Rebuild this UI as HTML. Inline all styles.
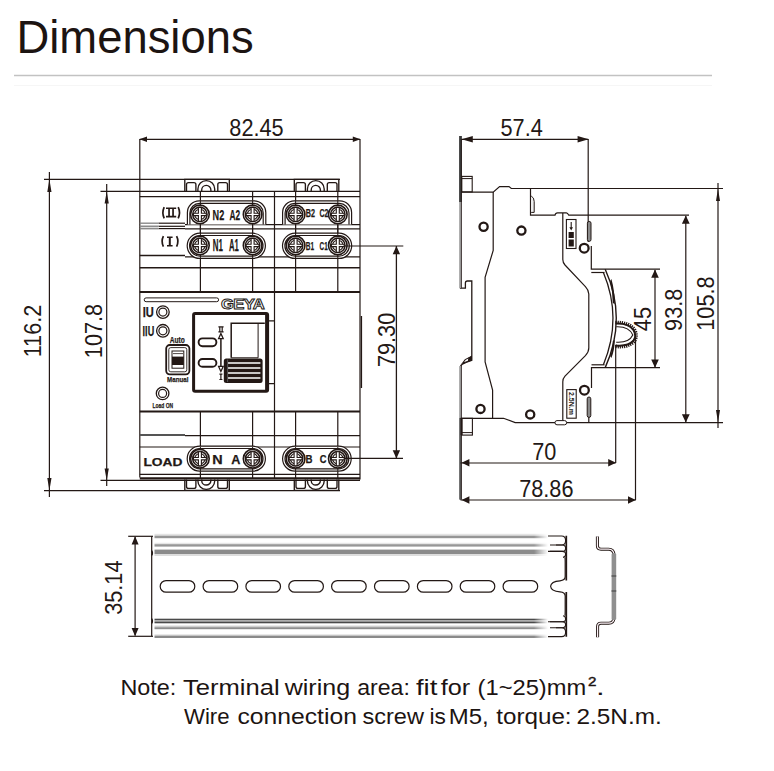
<!DOCTYPE html>
<html><head><meta charset="utf-8"><title>Dimensions</title>
<style>
html,body{margin:0;padding:0;background:#fff;}
body{width:774px;height:771px;overflow:hidden;position:relative;font-family:"Liberation Sans",sans-serif;}
svg{position:absolute;left:0;top:0;}
</style></head><body>
<svg width="774" height="771" viewBox="0 0 774 771" font-family="Liberation Sans, sans-serif">
<defs>
  <symbol id="screw" viewBox="-10 -10 20 20" overflow="visible">
    <circle r="9.3" fill="#fff" stroke="#231815" stroke-width="1.6"/>
    <circle r="7.2" fill="none" stroke="#231815" stroke-width="1.5"/>
    <circle r="5.2" fill="none" stroke="#231815" stroke-width="1.1"/>
    <path d="M-1.5,-7 V-1.2 H-6.4 V1.2 H-1.5 V7 H1.5 V1.2 H6.4 V-1.2 H1.5 V-7 Z" fill="#fff" stroke="#231815" stroke-width="1.1"/>
  </symbol>
  <linearGradient id="fadeR" x1="0" x2="1" y1="0" y2="0"><stop offset="0" stop-color="#fff" stop-opacity="0"/><stop offset="1" stop-color="#fff" stop-opacity="1"/></linearGradient>
  <marker id="at" viewBox="0 0 10 10" refX="10" refY="5" markerWidth="10" markerHeight="10" markerUnits="userSpaceOnUse" orient="auto-start-reverse">
    <path d="M0,1.5 L10,5 L0,8.5 Z" fill="#231815"/>
  </marker>
</defs>

<!-- Title -->
<text x="16.5" y="52.7" font-size="45.4" fill="#1c1412">Dimensions</text>
<line x1="14" y1="75.5" x2="712" y2="75.5" stroke="#c2c2c2" stroke-width="1.6"/>
<line x1="14" y1="85.5" x2="712" y2="85.5" stroke="#f6f6f6" stroke-width="1"/>


<g id="front" stroke="#231815" fill="none" stroke-width="1.2">
  <!-- 82.45 dimension -->
  <line x1="139.8" y1="139.3" x2="360" y2="139.3"/>
  <path d="M139.4,139.3 L147,136.6 L147,142 Z M360.4,139.3 L352.8,136.6 L352.8,142 Z" fill="#231815" stroke="none"/>
  <!-- outer vertical edges / extension -->
  <line x1="139.8" y1="139" x2="139.8" y2="477.5"/>
  <line x1="360" y1="139" x2="360" y2="479.5"/>
  <!-- 116.2 -->
  <line x1="44" y1="179.3" x2="340" y2="179.3"/>
  <line x1="44" y1="490.6" x2="340" y2="490.6"/>
  <line x1="49.4" y1="172" x2="49.4" y2="497"/>
  <path d="M49.4,179.3 L47.3,192 L51.5,192 Z M49.4,490.6 L47.3,478 L51.5,478 Z" fill="#231815" stroke="none"/>
  <!-- 107.8 -->
  <line x1="100.5" y1="191.4" x2="360" y2="191.4"/>
  <line x1="100.5" y1="480.4" x2="360" y2="480.4"/>
  <line x1="106.7" y1="184" x2="106.7" y2="486"/>
  <path d="M106.7,191.4 L104.6,203.5 L108.8,203.5 Z M106.7,480.4 L104.6,468.5 L108.8,468.5 Z" fill="#231815" stroke="none"/>

  <!-- top bumps -->
  <g id="bumpT" stroke-width="1.35">
    <path d="M184.8,191.4 V179.3 H229.3 V191.4"/>
    <path d="M186.5,191.4 V184.6 Q186.5,182.6 188.5,182.6 H193.9 Q195.9,182.6 195.9,184.6 V191.4"/>
    <path d="M217.8,191.4 V184.6 Q217.8,182.6 219.8,182.6 H225.5 Q227.5,182.6 227.5,184.6 V191.4"/>
    <path d="M197.9,191.4 V189 A8.4,8.4 0 0 1 214.7,189 V191.4"/>
    <path d="M201.7,191.4 V190 A4.6,4.6 0 0 1 210.9,190 V191.4"/>
  </g>
  <use href="#bumpT" transform="translate(109.5,0)"/>

  <!-- horizontal lines of top terminal block -->
  <line x1="139.8" y1="196.6" x2="360" y2="196.6"/>
  <line x1="158.5" y1="223.2" x2="185" y2="223.2"/>
  <line x1="139.8" y1="223.2" x2="158.5" y2="223.2" stroke="#8a8a8a" stroke-width="1.4"/>
  <line x1="158.5" y1="226.3" x2="185" y2="226.3"/>
  <line x1="158.5" y1="228.6" x2="185" y2="228.6"/>
  <line x1="139.8" y1="226.3" x2="158.5" y2="226.3" stroke="#8a8a8a" stroke-width="1.6"/>
  <line x1="139.8" y1="228.6" x2="158.5" y2="228.6" stroke="#8a8a8a" stroke-width="1.6"/>
  <line x1="185" y1="224.6" x2="360" y2="224.6"/>
  <line x1="185" y1="228.8" x2="360" y2="228.8"/>
  <line x1="139.8" y1="255.6" x2="185" y2="255.6" stroke-width="1.5"/>
  <line x1="185" y1="256.8" x2="360" y2="256.8"/>
  <line x1="139.8" y1="267.7" x2="360" y2="267.7" stroke-width="1.5"/>
  <line x1="139.8" y1="291.9" x2="360" y2="291.9" stroke-width="2"/>
  <!-- vertical lines top terminal block -->
  <path d="M200.4,191.4 V292 M252.6,191.4 V292 M274.5,191.4 V292 M295.6,191.4 V292 M337.8,191.4 V292"/>

  <!-- row II shells (open bottom) -->
  <path d="M187.4,224.6 V212.6 A11.8,11.8 0 0 1 199.2,200.8 H254 A11.8,11.8 0 0 1 265.8,212.6 V224.6" fill="#fff"/>
  <path d="M189.9,224.6 V213 A9.6,9.6 0 0 1 199.5,203.4 H253.6 A9.6,9.6 0 0 1 263.2,213 V224.6"/>
  <path d="M282.6,224.6 V212.6 A11.8,11.8 0 0 1 294.4,200.8 H339.8 A11.8,11.8 0 0 1 351.6,212.6 V224.6" fill="#fff"/>
  <path d="M285.1,224.6 V213 A9.6,9.6 0 0 1 294.7,203.4 H339.4 A9.6,9.6 0 0 1 349,213 V224.6"/>
  <!-- row I shells -->
  <rect x="187.2" y="233.2" width="78.2" height="25.2" rx="12.6" fill="#fff"/>
  <rect x="189.6" y="235.5" width="73.4" height="20.6" rx="10.3"/>
  <rect x="282.5" y="233.2" width="69.2" height="25.2" rx="12.6" fill="#fff"/>
  <rect x="284.9" y="235.5" width="64.4" height="20.6" rx="10.3"/>
  <!-- vertical lines through shells -->
  <path d="M200.4,201 V258.5 M252.6,201 V258.5 M295.6,201 V258.5 M337.8,201 V258.5" stroke-width="1"/>
  <!-- screws top -->
  <use href="#screw" x="189.9" y="204.4" width="20" height="20"/>
  <use href="#screw" x="242.6" y="204.4" width="20" height="20"/>
  <use href="#screw" x="285.6" y="204.4" width="20" height="20"/>
  <use href="#screw" x="327.8" y="204.4" width="20" height="20"/>
  <use href="#screw" x="189.9" y="235.4" width="20" height="20"/>
  <use href="#screw" x="242.6" y="235.4" width="20" height="20"/>
  <use href="#screw" x="285.6" y="235.4" width="20" height="20"/>
  <use href="#screw" x="327.8" y="235.4" width="20" height="20"/>
  
  <g fill="none" stroke="#231815" stroke-width="1.7">
    <path d="M164.2,207.2 Q161.6,212.8 164.2,218.4 M178.2,207.2 Q180.8,212.8 178.2,218.4"/>
    <path d="M163.4,236.2 Q160.8,241.4 163.4,246.6 M176.6,236.2 Q179.2,241.4 176.6,246.6"/>
  </g>
  <g fill="#231815" stroke="none">
    <path d="M166,207.4 H176.2 V209.1 H173.9 V215.8 H176.2 V217.6 H166 V215.8 H168.2 V209.1 H166 Z M169.9,209.1 V215.8 H172.2 V209.1 Z"/>
    <path d="M167,236.4 H172.6 V238 H170.8 V245 H172.6 V246.6 H167 V245 H168.8 V238 H167 Z"/>
  </g>

  <!-- front panel -->
  <line x1="274.5" y1="292" x2="274.5" y2="478"/>
  <rect x="144.2" y="297.9" width="74.4" height="3.8" rx="1.9" stroke-width="1"/>
  <text x="221" y="309.2" font-size="16" font-weight="bold" fill="#fff" stroke="#231815" stroke-width="1.0" letter-spacing="-0.6" transform="translate(221,309.2) scale(1.04,0.93) translate(-221,-309.2)">GEYA</text>
  <!-- window -->
  <rect x="193.6" y="313.6" width="74" height="77.6" rx="1.5" stroke-width="3"/>
  <line x1="266.6" y1="314" x2="266.6" y2="390" stroke-width="3"/>
  <path d="M268.1,320.8 H274.5 M268.1,383.7 H274.5"/>
  <line x1="361.4" y1="316" x2="361.4" y2="388" stroke-width="1.4"/>
  <!-- handle -->
  <path d="M231.2,357.8 V323.3 H264.8" stroke-width="1.5"/>
  <line x1="258.1" y1="323.3" x2="258.1" y2="357.8" stroke-width="1"/>
  <line x1="231.2" y1="357.8" x2="258.1" y2="357.8" stroke-width="1"/>
  <rect x="223.8" y="358.6" width="38.8" height="24.4" rx="2.5" fill="#231815" stroke="none"/>
  <path d="M228,363 H260.4 M228,368 H260.4 M228,373 H260.4 M228,378 H260.4" stroke="#fff" stroke-width="1.7"/>
  <path d="M227.6,359.6 V382" stroke="#555" stroke-width="1"/>
  <!-- ovals -->
  <rect x="198.6" y="338.4" width="17.8" height="7.8" rx="3.9" stroke-width="1.9"/>
  <rect x="198.6" y="359" width="17.8" height="7.8" rx="3.9" stroke-width="1.9"/>
  <!-- arrow II/I -->
  <line x1="220.9" y1="336" x2="220.9" y2="369" stroke-width="1.5"/>
  <path d="M220.9,333.6 L218.6,338.6 L223.2,338.6 Z M220.9,371.4 L218.6,366.4 L223.2,366.4 Z" fill="#fff" stroke-width="1.3"/>
  <path d="M218.4,326.2 H223.6 V327.4 H222.8 V331.3 H223.6 V332.5 H218.4 V331.3 H219.2 V327.4 H218.4 Z M220.4,327.4 V331.3 H221.6 V327.4 Z" fill="#231815" stroke="none"/>
  <path d="M219.4,373.6 H222.4 V374.7 H221.5 V378.9 H222.4 V380 H219.4 V378.9 H220.3 V374.7 H219.4 Z" fill="#231815" stroke="none"/>
  <!-- left indicators -->
  <circle cx="162.9" cy="312.1" r="6.3" stroke-width="1.3"/>
  <circle cx="162.9" cy="312.1" r="4.0" stroke-width="1.2"/>
  <circle cx="162.9" cy="330.8" r="6.3" stroke-width="1.3"/>
  <circle cx="162.9" cy="330.8" r="4.0" stroke-width="1.2"/>
  <circle cx="162.6" cy="393.4" r="6.3" stroke-width="1.3"/>
  <circle cx="162.6" cy="393.4" r="4.0" stroke-width="1.2"/>
  <!-- switch -->
  <rect x="166.2" y="345" width="23.2" height="29.4" rx="3.6" stroke-width="1.8"/>
  <rect x="168.8" y="347.6" width="18" height="24.2" rx="2" stroke-width="0.9"/>
  <rect x="172" y="351" width="11.8" height="17.2" stroke-width="1"/>
  <rect x="172" y="356.6" width="11.8" height="8.4" fill="#231815" stroke="none"/>
  <line x1="173" y1="353.6" x2="183" y2="353.6" stroke-width="0.8"/>

  <!-- bottom terminal block -->
  <line x1="139.8" y1="411.5" x2="360" y2="411.5" stroke-width="2"/>
  <line x1="185" y1="435.6" x2="360" y2="435.6" stroke-width="1.4"/>
  <line x1="139.8" y1="435" x2="185" y2="435" stroke="#555" stroke-width="2"/>
  <line x1="139.8" y1="447" x2="360" y2="447"/>
  <line x1="139.8" y1="474.4" x2="360" y2="474.4"/>
  <line x1="139.8" y1="478.4" x2="360" y2="478.4" stroke-width="2.4"/>
  <path d="M200.4,411.5 V478 M252.6,411.5 V478 M295.6,411.5 V478 M337.8,411.5 V478"/>
  <rect x="187.2" y="446.2" width="78.2" height="25" rx="12.5" fill="#fff"/>
  <rect x="189.6" y="448.5" width="73.4" height="20.4" rx="10.2"/>
  <rect x="282.6" y="446.2" width="68.6" height="25" rx="12.5" fill="#fff"/>
  <rect x="285" y="448.5" width="63.8" height="20.4" rx="10.2"/>
  <path d="M200.4,447 V471 M252.6,447 V471 M295.6,447 V471 M337.8,447 V471" stroke-width="1"/>
  <use href="#screw" x="189.9" y="448.7" width="20" height="20"/>
  <use href="#screw" x="242.6" y="448.7" width="20" height="20"/>
  <use href="#screw" x="285.6" y="448.7" width="20" height="20"/>
  <use href="#screw" x="327.8" y="448.7" width="20" height="20"/>
  
  <!-- bottom bumps -->
  <g id="bumpB" stroke-width="1.35">
    <path d="M184.8,479.5 V490.4 H229.3 V479.5"/>
    <path d="M186.5,479.5 V486.4 Q186.5,488.4 188.5,488.4 H193.9 Q195.9,488.4 195.9,486.4 V479.5"/>
    <path d="M217.8,479.5 V486.4 Q217.8,488.4 219.8,488.4 H225.5 Q227.5,488.4 227.5,486.4 V479.5"/>
    <path d="M197.9,479.5 V481 A8.4,8.4 0 0 0 214.7,481 V479.5"/>
    <path d="M201.7,479.5 V480.4 A4.6,4.6 0 0 0 210.9,480.4 V479.5"/>
  </g>
  <use href="#bumpB" transform="translate(109.5,0)"/>

  <!-- 79.30 dimension -->
  <line x1="344" y1="246" x2="403.3" y2="246"/>
  <line x1="344" y1="458.4" x2="403" y2="458.4"/>
  <line x1="396.4" y1="246" x2="396.4" y2="458" stroke-width="1.3"/>
  <path d="M396.4,246 L392.7,254.2 L400.1,254.2 Z M396.4,458.4 L392.7,450.2 L400.1,450.2 Z" fill="#231815" stroke="none"/>
</g>



<g id="side" stroke="#231815" fill="none" stroke-width="1.2">
  <!-- 57.4 dimension -->
  <line x1="460.3" y1="139.3" x2="588.2" y2="139.3"/>
  <path d="M461.6,139.3 L472.8,136 L472.8,142.6 Z M588.6,139.3 L577.6,136 L577.6,142.6 Z" fill="#231815" stroke="none"/>
  <!-- DIN rail profile (left) -->
  <path d="M460.5,139 V288.2 H465.4 V283 Q465.4,281 467.4,281 H471.8 V360.2 L466,362.4 L462.4,364.2 Q460.5,365.2 460.5,367 V499.6" stroke-width="1.3"/>
  <line x1="460.4" y1="202" x2="460.4" y2="288" stroke="#a4a4a4" stroke-width="2.4"/>
  <line x1="460.4" y1="366" x2="460.4" y2="418" stroke="#a4a4a4" stroke-width="2.4"/>
  <line x1="460.4" y1="418" x2="460.4" y2="499.6" stroke="#5a5a5a" stroke-width="2.4"/>
  <line x1="460.5" y1="136" x2="460.5" y2="202" stroke="#3a3a3a" stroke-width="2.8"/>
  <path d="M461.4,139 V288.2 M461.4,365 V499.6" stroke-width="0.8"/>
  <path d="M471.4,356.4 L465.2,359.6 L462.6,363.2 L471.4,360 Z" fill="#fff" stroke="#231815" stroke-width="1.1"/>
  <path d="M469,358 L471.4,356.8 L471.4,359.6 L468.6,360.4 Z" fill="#231815"/>
  <!-- DIN clips top/bottom -->
  <rect x="461.8" y="176.4" width="10.4" height="15.5" stroke-width="1.1"/>
  <line x1="461.8" y1="178.6" x2="472.2" y2="178.6" stroke-width="1"/>
  <rect x="461.6" y="418.3" width="10.8" height="16.8" stroke-width="1.1"/>
  <line x1="461.6" y1="432.6" x2="472.4" y2="432.6" stroke-width="1"/>
  <line x1="461.6" y1="418.3" x2="461.6" y2="435" stroke-width="2"/>

  <!-- body top edge -->
  <path d="M461.8,192.1 H493.2 L499.6,186.6 H509 L511.3,188.5 H723"/>
  <!-- terminal block top rect -->
  <path d="M530.5,188.5 V215.2 H555 Q555.5,212.8 557.5,212.8 H566.4 Q567.6,212.8 568.8,215.2 H689"/>
  <path d="M531.2,196 Q534.2,197.5 534.2,201.5 V212.4 H531.2" fill="#eee" stroke-width="1"/>
  <!-- body left waist -->
  <path d="M493.2,192.1 V250.4 L485.1,277.4 V362 L492.6,390.2 V418.3"/>
  <!-- body bottom -->
  <path d="M460.5,418.3 H503.5 L515.2,422.6 H723"/>
  <!-- body right profile -->
  <path d="M562.8,213 V259.5 Q562.8,262.5 565,265 L585.4,286.6 Q588.8,290.2 588.8,294 V348 Q588.8,352 585.4,355.6 L565,376.2 Q562.8,378.7 562.8,381.7 V422.6"/>
  <!-- front face lines -->
  <line x1="588.2" y1="139" x2="588.2" y2="242"/>
  <path d="M591.3,246 V269.2 H660"/>
  <path d="M591.3,272.5 H604.5"/>
  <path d="M591.5,388 V367.6 H660"/>
  <path d="M588.8,417 V422.6"/>
  <path d="M591.5,364.8 H604.5"/>
  <!-- knob slivers -->
  <rect x="587.4" y="221.4" width="3.6" height="20" rx="1.8" stroke-width="1" fill="#8a8a8a"/>
  <rect x="587.2" y="397" width="3.6" height="20.4" rx="1.8" stroke-width="1" fill="#8a8a8a"/>
  <!-- circles -->
  <g stroke-width="2.3">
    <circle cx="483.6" cy="226.8" r="4.1"/>
    <circle cx="521.4" cy="230.6" r="4.1"/>
    <circle cx="584.2" cy="248.2" r="4.4"/>
    <circle cx="480.5" cy="408.9" r="4.1"/>
    <circle cx="530.2" cy="414.4" r="4.1"/>
    <circle cx="584.4" cy="390.2" r="4.4"/>
  </g>
  <!-- label boxes -->
  <rect x="566.4" y="219.5" width="9.6" height="29" stroke-width="1.1"/>
  <rect x="566.8" y="389.6" width="9.4" height="28.6" stroke-width="1.1"/>
  <path d="M571.2,222 V229" stroke-width="1.1"/>
  <path d="M569.4,227.2 L571.2,230.4 L573,227.2 Z" fill="#231815" stroke="none"/>
  <rect x="568.6" y="232" width="5.2" height="6" fill="#231815" stroke="none"/>
  <rect x="568.6" y="239.5" width="5.2" height="7" fill="#231815" stroke="none"/>
  <text transform="translate(569,392) rotate(90)" font-size="7" font-weight="bold" fill="#231815" stroke="none">2.5N.m</text>
  <!-- bottom small clip -->
  <rect x="555" y="420.6" width="11.6" height="4.2" rx="2" stroke-width="1" fill="#fff"/>

  <!-- handle arcs -->
  <path d="M605.2,269.2 Q627.4,318.4 605.2,367.6" stroke-width="1.4"/>
  <path d="M603.4,272.6 Q622.6,318.4 603.4,364.8" stroke-width="1.3"/>
  <path d="M611.4,279 Q614.6,290 614.8,304 L612.8,303 Q612.4,291 610.2,281 Z" fill="#231815" stroke="none"/>
  <path d="M611.4,358 Q614.6,350 614.8,340 L612.8,341 Q612.4,350 610.2,356 Z" fill="#231815" stroke="none"/>
  <!-- knob -->
  <path d="M615.4,322.6 Q628.6,321.8 634.2,329.2 Q638.2,335.6 634.2,341.4 Q628.2,348 615.4,346.4" stroke-width="3.4" stroke-dasharray="1.2 0.9"/>
  <path d="M615.6,323.6 Q628,322.8 633.4,329.9 Q637,335.6 633.4,340.8 Q627.6,346.8 615.6,345.4" stroke-width="2"/>
  <path d="M616.2,326.8 Q629,326.2 632.8,335 Q629,343 616.2,342.2" stroke-width="1.1"/>
  <!-- extension lines down -->
  <line x1="615.7" y1="345" x2="615.7" y2="463"/>
  <line x1="635.5" y1="337" x2="635.5" y2="500.2"/>
  <!-- 70 dim -->
  <line x1="460.5" y1="463" x2="615.7" y2="463"/>
  <path d="M461.6,462.8 L469.4,459 L469.4,466.6 Z M616,462.8 L608.2,459 L608.2,466.6 Z" fill="#231815" stroke="none"/>
  <!-- 78.86 dim -->
  <line x1="460.5" y1="500" x2="635.5" y2="500"/>
  <path d="M461.6,500 L469.4,496.2 L469.4,503.8 Z M635.8,500 L628,496.2 L628,503.8 Z" fill="#231815" stroke="none"/>
  <!-- 45 dim -->
  <line x1="655" y1="270" x2="655" y2="367.4"/>
  <path d="M655,269.4 L651.2,277.8 L658.8,277.8 Z M655,367.8 L651.2,359.4 L658.8,359.4 Z" fill="#231815" stroke="none"/>
  <!-- 93.8 dim -->
  <line x1="685.8" y1="216" x2="685.8" y2="422"/>
  <path d="M685.8,215.4 L681.9,223.8 L689.7,223.8 Z M685.8,422.6 L681.9,414.2 L689.7,414.2 Z" fill="#231815" stroke="none"/>
  <!-- 105.8 dim -->
  <line x1="718" y1="183" x2="718" y2="428"/>
  <path d="M718,188.5 L716,201 L720,201 Z M718,422.6 L716,410 L720,410 Z" fill="#231815" stroke="none"/>
</g>

<g id="rail">
  <!-- 35.14 dimension -->
  <g stroke="#231815" fill="none" stroke-width="1.2">
    <line x1="128.2" y1="536.3" x2="153" y2="536.3"/>
    <line x1="128.2" y1="636.3" x2="153" y2="636.3"/>
    <line x1="135.1" y1="537" x2="135.1" y2="635.6"/>
  </g>
  <path d="M135.1,536.3 L131.6,544.6 L138.6,544.6 Z M135.1,636.3 L131.6,628 L138.6,628 Z" fill="#231815"/>
  <!-- strips top -->
  <rect x="154.5" y="533.8" width="410" height="2" fill="#e4e4e4"/>
  <rect x="154.5" y="535.7" width="410" height="2.5" fill="#969696"/>
  <rect x="154.5" y="542.8" width="410" height="1.4" fill="#e6e6e6"/>
  <rect x="154.5" y="544.2" width="410" height="2.4" fill="#979797"/>
  <rect x="154.5" y="549.6" width="410" height="4.4" fill="#8b8b8b"/>
  <rect x="154.5" y="554" width="410" height="2" fill="#dddddd"/>
  <!-- strips bottom -->
  <rect x="154.5" y="618.7" width="410" height="1.7" fill="#4a4a4a"/>
  <rect x="154.5" y="620.4" width="410" height="1.2" fill="#aaaaaa"/>
  <rect x="154.5" y="621.6" width="410" height="1.7" fill="#4a4a4a"/>
  <rect x="154.5" y="625.6" width="410" height="1.6" fill="#cfcfcf"/>
  <rect x="154.5" y="627.2" width="410" height="2" fill="#8e8e8e"/>
  <rect x="154.5" y="634.6" width="410" height="1.2" fill="#c8c8c8"/>
  <rect x="154.5" y="635.8" width="410" height="2.2" fill="#8a8a8a"/>
  <!-- rail left edge -->
  <g stroke="#231815" fill="none" stroke-width="1.2">
    <line x1="151.7" y1="536.3" x2="151.7" y2="636.3"/>
    <path d="M151.7,550.5 Q153.4,553 151.7,555.5 M151.7,618.5 Q153.4,621 151.7,623.5" fill="#231815"/>
  </g>
  <!-- slots -->
  <g stroke="#231815" fill="none" stroke-width="1.2"><rect x="160.2" y="580.6" width="34.6" height="11.6" rx="5.8"/><rect x="203.1" y="580.6" width="34.6" height="11.6" rx="5.8"/><rect x="245.9" y="580.6" width="34.6" height="11.6" rx="5.8"/><rect x="288.8" y="580.6" width="34.6" height="11.6" rx="5.8"/><rect x="331.6" y="580.6" width="34.6" height="11.6" rx="5.8"/><rect x="374.5" y="580.6" width="34.6" height="11.6" rx="5.8"/><rect x="417.4" y="580.6" width="34.6" height="11.6" rx="5.8"/><rect x="460.2" y="580.6" width="34.6" height="11.6" rx="5.8"/><rect x="503.1" y="580.6" width="34.6" height="11.6" rx="5.8"/></g>
  <!-- right end -->
  <rect x="534" y="532" width="14" height="26" fill="url(#fadeR)"/>
  <rect x="534" y="615" width="14" height="24" fill="url(#fadeR)"/>
  <rect x="547.8" y="532" width="18" height="26" fill="#fff"/>
  <rect x="547.8" y="615" width="18" height="24" fill="#fff"/>
  <g stroke="#231815" fill="none" stroke-width="1.1">
    <path d="M548,536 H561.6 Q565.6,536 565.6,540.5 Q565.6,545 561.6,545 H556"/>
    <path d="M550,545 H562.2 Q565.6,545 565.6,548.2 Q565.6,551.4 562.2,551.4 H548"/>
    <path d="M550,551.4 H562.2 Q565.6,551.4 565.6,554.2 Q565.6,557 563,557.4"/>
    <path d="M548,636.6 H561.6 Q565.6,636.6 565.6,632.2 Q565.6,627.8 561.6,627.8 H556"/>
    <path d="M550,627.8 H562.2 Q565.6,627.8 565.6,624.8 Q565.6,621.8 562.2,621.8 H548"/>
    <path d="M550,621.8 H562.2 Q565.6,621.8 565.6,619 Q565.6,616.2 563,615.8"/>
    <path d="M566.3,535.8 V580.6 M566.3,592 V636.8" stroke-width="1.7"/>
    <path d="M565,557.4 Q565.2,559 565.2,562 V576.6 Q565.2,580.4 560,580.8 Q551,581.4 550.6,586.3 Q551,591.2 560,591.8 Q565.2,592.2 565.2,596 V611 Q565.2,614 565,615.8" stroke-width="1.2"/>
  </g>
  <!-- DIN profile -->
  <path d="M597.4,536.6 V545.8 Q597.4,549.2 601,549.2 H608.6 Q613.8,549.2 613.8,554.6 V618 Q613.8,623.2 608.6,623.2 H601 Q597.6,623.2 597.6,626.6 V637.2" fill="none" stroke="#231815" stroke-width="3"/>
  <path d="M597.4,536.6 V545.8 Q597.4,549.2 601,549.2 H608.6 Q613.8,549.2 613.8,554.6 V618 Q613.8,623.2 608.6,623.2 H601 Q597.6,623.2 597.6,626.6 V637.2" fill="none" stroke="#fdf2f7" stroke-width="1.2"/>
  <rect x="611.6" y="553" width="4.6" height="67" rx="1.5" fill="#8f8f8f"/>
  <rect x="611.6" y="575" width="4.6" height="2" fill="#666"/>
  <rect x="611.6" y="590" width="4.6" height="2" fill="#666"/>
</g>
<g id="labels" fill="#231815" stroke="#231815" stroke-width="0.25">
  <text x="212.61" y="219.60" font-size="15.29" font-weight="bold" textLength="11.69" lengthAdjust="spacingAndGlyphs">N2</text>
  <text x="229.49" y="219.60" font-size="15.29" font-weight="bold" textLength="10.67" lengthAdjust="spacingAndGlyphs">A2</text>
  <text x="212.68" y="251.30" font-size="15.94" font-weight="bold" textLength="10.14" lengthAdjust="spacingAndGlyphs">N1</text>
  <text x="228.91" y="251.30" font-size="15.94" font-weight="bold" textLength="9.81" lengthAdjust="spacingAndGlyphs">A1</text>
  <text x="305.73" y="217.30" font-size="11.57" font-weight="bold" textLength="9.18" lengthAdjust="spacingAndGlyphs">B2</text>
  <text x="319.52" y="217.19" font-size="11.41" font-weight="bold" textLength="8.99" lengthAdjust="spacingAndGlyphs">C2</text>
  <text x="305.78" y="249.70" font-size="11.30" font-weight="bold" textLength="8.31" lengthAdjust="spacingAndGlyphs">B1</text>
  <text x="319.55" y="249.59" font-size="10.99" font-weight="bold" textLength="8.14" lengthAdjust="spacingAndGlyphs">C1</text>
  <text x="143.40" y="466.19" font-size="10.99" font-weight="bold" textLength="39.09" lengthAdjust="spacingAndGlyphs">LOAD</text>
  <text x="212.26" y="464.20" font-size="12.32" font-weight="bold" textLength="10.40" lengthAdjust="spacingAndGlyphs">N</text>
  <text x="231.38" y="464.20" font-size="12.32" font-weight="bold" textLength="9.16" lengthAdjust="spacingAndGlyphs">A</text>
  <text x="305.47" y="462.90" font-size="11.74" font-weight="bold" textLength="6.99" lengthAdjust="spacingAndGlyphs">B</text>
  <text x="319.73" y="462.79" font-size="11.41" font-weight="bold" textLength="6.73" lengthAdjust="spacingAndGlyphs">C</text>
  <text x="142.68" y="316.86" font-size="13.71" font-weight="bold" textLength="11.09" lengthAdjust="spacingAndGlyphs">IU</text>
  <text x="142.61" y="335.66" font-size="13.86" font-weight="bold" textLength="11.56" lengthAdjust="spacingAndGlyphs">IIU</text>
  <text x="169.73" y="343.22" font-size="8.43" font-weight="bold" textLength="15.04" lengthAdjust="spacingAndGlyphs">Auto</text>
  <text x="167.10" y="382.02" font-size="7.89" font-weight="bold" textLength="21.26" lengthAdjust="spacingAndGlyphs">Manual</text>
  <text x="152.58" y="407.82" font-size="8.03" font-weight="bold" textLength="20.55" lengthAdjust="spacingAndGlyphs">Load ON</text>
</g>
<g id="dimtext" fill="#231815" font-size="23.6" text-anchor="middle">
  <text transform="translate(256.5,135.7) scale(0.92,1)">82.45</text>
  <text transform="translate(521.65,135.8) scale(0.92,1)">57.4</text>
  <text transform="translate(544.3,459.7) scale(0.92,1)">70</text>
  <text transform="translate(546.35,496.6) scale(0.92,1)">78.86</text>
  <text transform="translate(40.9,331) rotate(-90) scale(0.92,1)">116.2</text>
  <text transform="translate(102,331) rotate(-90) scale(0.92,1)">107.8</text>
  <text transform="translate(395.2,339.9) rotate(-90) scale(0.92,1)">79.30</text>
  <text transform="translate(650.8,319.1) rotate(-90) scale(0.92,1)">45</text>
  <text transform="translate(681.8,309.8) rotate(-90) scale(0.92,1)">93.8</text>
  <text transform="translate(714.1,303.6) rotate(-90) scale(0.92,1)">105.8</text>
  <text transform="translate(121.5,587.7) rotate(-90) scale(0.92,1)">35.14</text>
</g>
<!-- note -->
<g fill="#1c1412" font-size="21.2">
  <text x="120.4" y="694.5" textLength="55.9" lengthAdjust="spacingAndGlyphs">Note:</text>
  <text x="182.9" y="694.5" textLength="96.7" lengthAdjust="spacingAndGlyphs">Terminal</text>
  <text x="284.7" y="694.5" textLength="65.4" lengthAdjust="spacingAndGlyphs">wiring</text>
  <text x="357.2" y="694.5" textLength="52.7" lengthAdjust="spacingAndGlyphs">area:</text>
  <text x="415.9" y="694.5" textLength="21.5" lengthAdjust="spacingAndGlyphs">fit</text>
  <text x="440.7" y="694.5" textLength="29.5" lengthAdjust="spacingAndGlyphs">for</text>
  <text x="477.6" y="694.5" textLength="108.6" lengthAdjust="spacingAndGlyphs">(1~25)mm</text>
  <text x="595.9" y="694.5" textLength="8.7" lengthAdjust="spacingAndGlyphs">.</text>
  <text x="184.0" y="724.3" textLength="45.6" lengthAdjust="spacingAndGlyphs">Wire</text>
  <text x="237.4" y="724.3" textLength="119.5" lengthAdjust="spacingAndGlyphs">connection</text>
  <text x="362.4" y="724.3" textLength="61.5" lengthAdjust="spacingAndGlyphs">screw</text>
  <text x="429.4" y="724.3" textLength="16.4" lengthAdjust="spacingAndGlyphs">is</text>
  <text x="448.8" y="724.3" textLength="40.0" lengthAdjust="spacingAndGlyphs">M5,</text>
  <text x="496.3" y="724.3" textLength="75.3" lengthAdjust="spacingAndGlyphs">torque:</text>
  <text x="576.5" y="724.3" textLength="85.3" lengthAdjust="spacingAndGlyphs">2.5N.m.</text>
  <text x="588.14" y="685.70" font-size="13.29" font-weight="normal" stroke="#1c1412" stroke-width="0.45" textLength="8.43" lengthAdjust="spacingAndGlyphs">2</text>
</g>

</svg>
</body></html>
